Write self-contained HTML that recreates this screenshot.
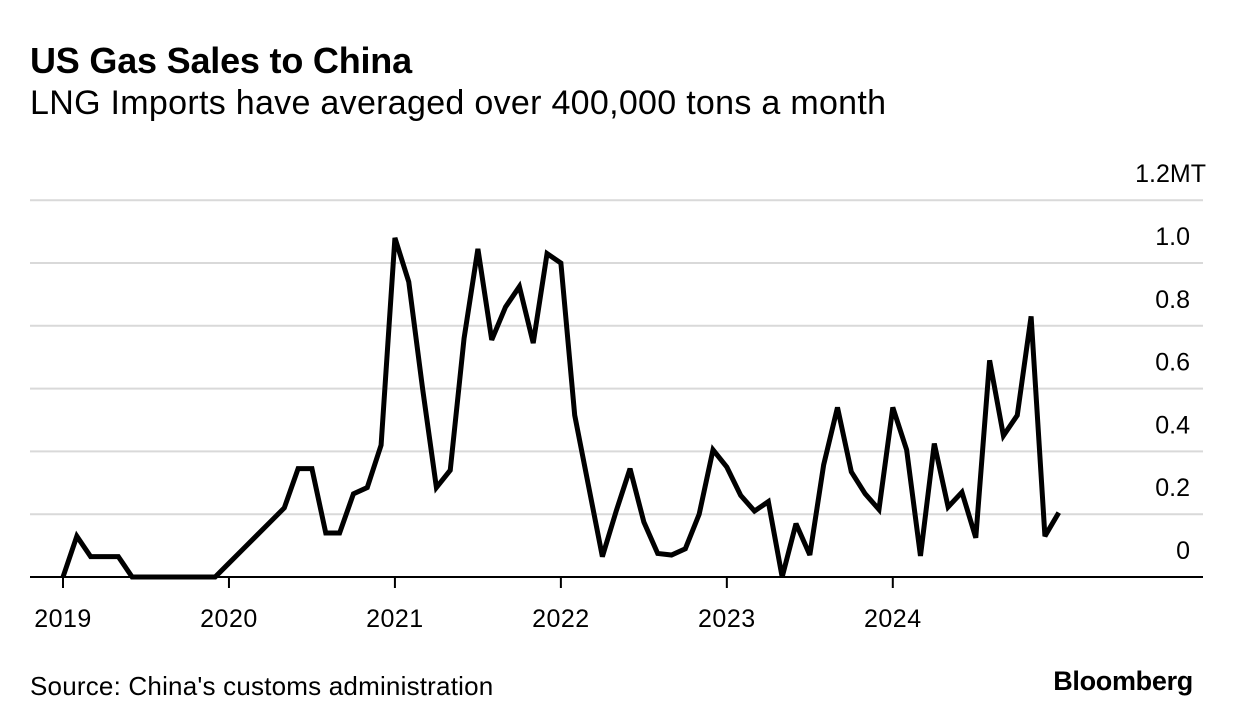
<!DOCTYPE html>
<html><head><meta charset="utf-8"><style>
body{margin:0;background:#fff;font-family:"Liberation Sans",sans-serif;}
#wrap{position:relative;width:1233px;height:726px;overflow:hidden;}
.t{position:absolute;white-space:nowrap;color:#000;}
</style></head><body>
<div id="wrap">
<div class="t" style="left:30px;top:40px;font-size:36px;font-weight:bold;letter-spacing:-0.2px">US Gas Sales to China</div>
<div class="t" style="left:30px;top:84px;font-size:34px;letter-spacing:0.3px">LNG Imports have averaged over 400,000 tons a month</div>
<svg id="chart" width="1233" height="726" style="position:absolute;left:0;top:0"></svg>
<div class="t" style="left:30px;top:671px;font-size:26px;letter-spacing:0.2px">Source: China's customs administration</div>
<div class="t" style="right:40px;top:666px;font-size:27px;font-weight:bold;letter-spacing:-0.3px">Bloomberg</div>
</div>
<script>
const values=[0,0.13,0.065,0.065,0.065,0,0,0,0,0,0,0,
0.044,0.088,0.132,0.176,0.22,0.345,0.345,0.14,0.14,0.265,0.285,0.42,
1.08,0.94,0.6,0.285,0.34,0.76,1.045,0.755,0.86,0.925,0.745,1.03,
1.0,0.515,0.29,0.065,0.21,0.345,0.175,0.075,0.07,0.09,0.2,0.405,
0.35,0.26,0.21,0.24,0,0.17,0.07,0.357,0.54,0.335,0.265,0.215,
0.54,0.405,0.067,0.425,0.223,0.27,0.125,0.69,0.45,0.515,0.83,0.13,
0.205];
const yTicks=[0,0.2,0.4,0.6,0.8,1.0,1.2];
const yTickLabels=["0","0.2","0.4","0.6","0.8","1.0","1.2MT"];
const years=["2019","2020","2021","2022","2023","2024"];
const NS="http://www.w3.org/2000/svg";
const svg=document.getElementById('chart');
const x=i=>63+i*13.83;
const y=v=>577-v*314;
function mk(tag,attrs){const e=document.createElementNS(NS,tag);for(const k in attrs)e.setAttribute(k,attrs[k]);svg.appendChild(e);return e;}
yTicks.forEach((v,k)=>{
  if(v>0){const g=mk('line',{x1:30,x2:1203,y1:y(v),y2:y(v),stroke:'#d9d9d9','stroke-width':2});
  
  }
  const last=k===yTicks.length-1;
  const t=mk('text',{x:last?1206:1190,y:y(v)-18,'text-anchor':'end','font-size':25,'font-family':'Liberation Sans, sans-serif',fill:'#000'});
  t.textContent=yTickLabels[k];
  
  
});
const base=mk('line',{x1:30,x2:1203,y1:y(0),y2:y(0),stroke:'#000','stroke-width':2});


years.forEach((yr,k)=>{
  const xx=x(k*12);
  const tk=mk('line',{x1:xx,x2:xx,y1:y(0),y2:y(0)+11,stroke:'#000','stroke-width':2});
  
  
  const t=mk('text',{x:xx,y:627,'text-anchor':'middle','font-size':25,'font-family':'Liberation Sans, sans-serif',fill:'#000','letter-spacing':'0.5'});
  t.textContent=yr;
  
  
});
const p=mk('polyline',{points:values.map((v,i)=>x(i)+','+y(v)).join(' '),fill:'none',stroke:'#000','stroke-width':5,'stroke-linejoin':'miter','stroke-miterlimit':3});


</script>
</body></html>
